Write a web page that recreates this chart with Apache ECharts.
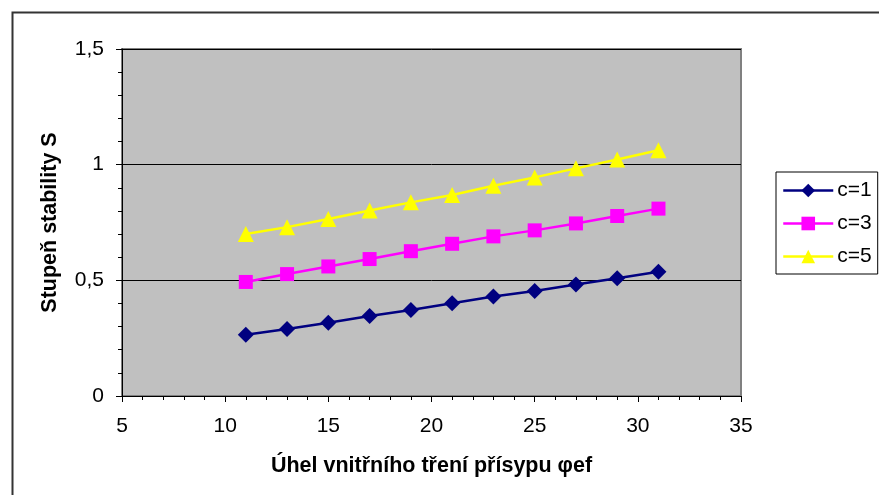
<!DOCTYPE html>
<html>
<head>
<meta charset="utf-8">
<script src="https://cdn.jsdelivr.net/npm/echarts@6/dist/echarts.min.js"></script>
<style>
  html, body { margin: 0; padding: 0; background: #fff; }
  #chart { width: 879px; height: 495px; }
</style>
</head>
<body>
<div id="chart"></div>
<script>
// Angle of internal friction (degrees)
const phiValues = [11, 13, 15, 17, 19, 21, 23, 25, 27, 29, 31];
// Stability degree S for each cohesion value
const seriesNames = ['c=1', 'c=3', 'c=5'];
const sC1 = [0.265, 0.290, 0.317, 0.346, 0.372, 0.401, 0.430, 0.454, 0.482, 0.509, 0.537];
const sC3 = [0.493, 0.527, 0.560, 0.592, 0.626, 0.658, 0.690, 0.716, 0.746, 0.778, 0.810];
const sC5 = [0.700, 0.730, 0.765, 0.802, 0.837, 0.869, 0.909, 0.945, 0.984, 1.022, 1.062];

const pairs = ys => phiValues.map((x, i) => [x, ys[i]]);
const FONT = '"Liberation Sans", Arial, sans-serif';

const chart = echarts.init(document.getElementById('chart'), null, { renderer: 'canvas' });

chart.setOption({
  animation: false,
  textStyle: { fontFamily: FONT },
  graphic: [{
    type: 'rect',
    shape: { x: 12.5, y: 12.5, width: 900, height: 520 },
    style: { fill: 'none', stroke: '#333', lineWidth: 2 },
    silent: true,
    z: -10
  }],
  grid: {
    left: 122, top: 49, right: 138, bottom: 99,
    show: true,
    backgroundColor: '#C0C0C0',
    borderColor: '#808080',
    borderWidth: 2
  },
  legend: {
    orient: 'vertical',
    left: 776, top: 172,
    padding: [8, 6, 7, 6],
    itemGap: 12,
    itemWidth: 50,
    itemHeight: 17,
    borderColor: '#000',
    borderWidth: 1,
    backgroundColor: '#fff',
    lineStyle: { width: 2.5 },
    textStyle: { fontSize: 21, color: '#000', fontFamily: FONT, padding: [0, 0, 0, -1] },
    data: seriesNames
  },
  xAxis: {
    type: 'value',
    min: 5, max: 35, interval: 5,
    name: 'Úhel vnitřního tření přísypu φef',
    nameLocation: 'middle',
    nameGap: 59,
    nameTextStyle: { fontSize: 21.5, fontWeight: 'bold', color: '#000', fontFamily: FONT },
    axisLine: { show: true, onZero: false, lineStyle: { color: '#000', width: 1 } },
    axisTick: { show: true, inside: false, length: 6, lineStyle: { color: '#000' } },
    minorTick: { show: true, splitNumber: 5, length: 4, lineStyle: { color: '#000' } },
    axisLabel: { fontSize: 21, color: '#000', margin: 20, fontFamily: FONT },
    splitLine: { show: false }
  },
  yAxis: {
    type: 'value',
    min: 0, max: 1.5, interval: 0.5,
    name: 'Stupeň stability S',
    nameLocation: 'middle',
    nameGap: 61,
    nameTextStyle: { fontSize: 21.5, fontWeight: 'bold', color: '#000', fontFamily: FONT },
    axisLine: { show: true, lineStyle: { color: '#000', width: 1 } },
    axisTick: { show: true, inside: false, length: 6, lineStyle: { color: '#000' } },
    minorTick: { show: true, splitNumber: 5, length: 4, lineStyle: { color: '#000' } },
    axisLabel: {
      fontSize: 21, color: '#000', margin: 18, fontFamily: FONT,
      formatter: v => String(v).replace('.', ',')
    },
    splitLine: { show: true, lineStyle: { color: '#000', width: 1 } }
  },
  series: [
    {
      name: seriesNames[0], type: 'line', data: pairs(sC1),
      symbol: 'diamond', symbolSize: 16,
      lineStyle: { color: '#000080', width: 2.5 },
      itemStyle: { color: '#000080' }
    },
    {
      name: seriesNames[1], type: 'line', data: pairs(sC3),
      symbol: 'rect', symbolSize: 14,
      lineStyle: { color: '#FF00FF', width: 2.5 },
      itemStyle: { color: '#FF00FF' }
    },
    {
      name: seriesNames[2], type: 'line', data: pairs(sC5),
      symbol: 'triangle', symbolSize: 16,
      lineStyle: { color: '#FFFF00', width: 2.5 },
      itemStyle: { color: '#FFFF00' }
    }
  ]
});
</script>
</body>
</html>
